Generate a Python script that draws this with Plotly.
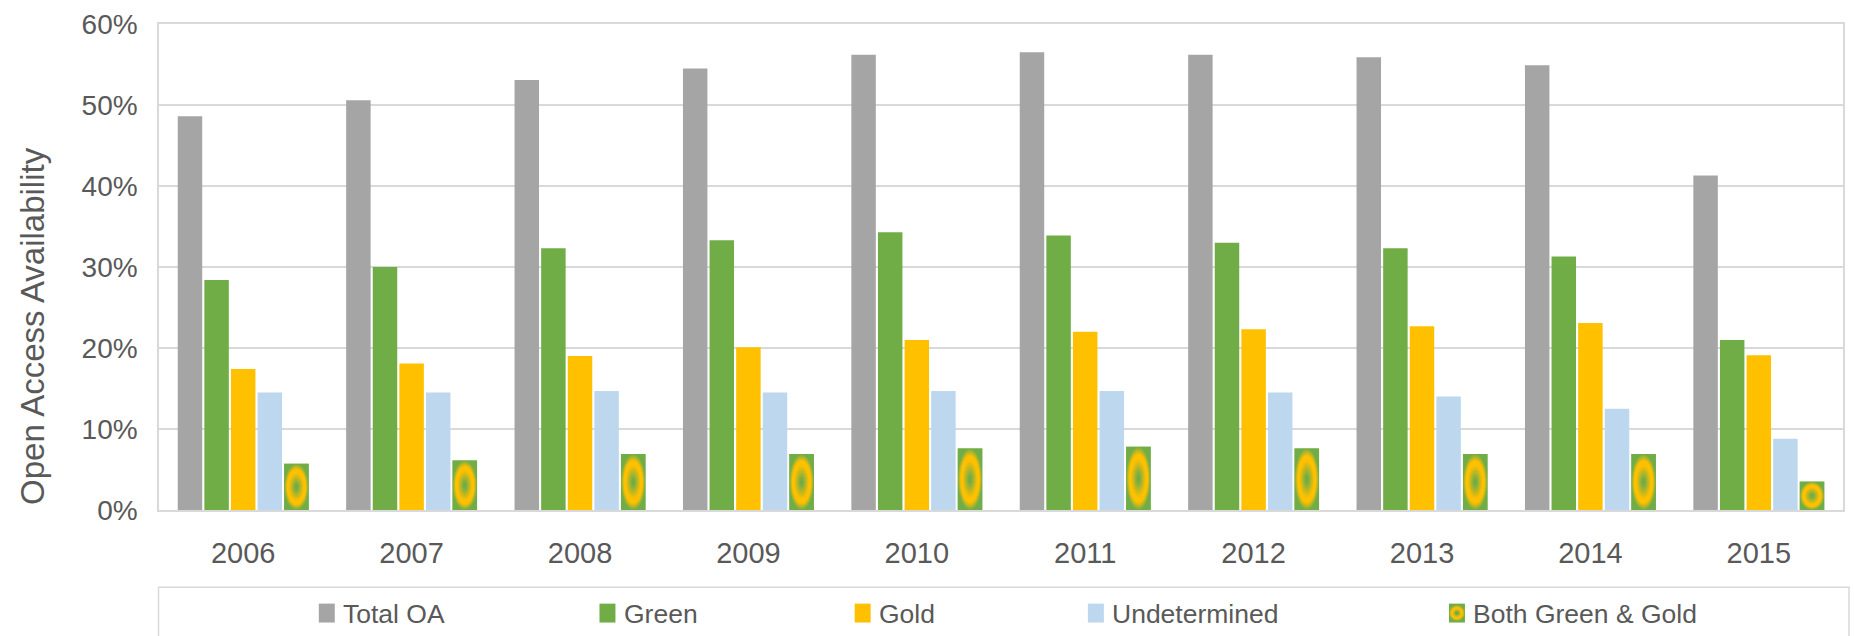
import plotly.graph_objects as go

# ---- data (share of articles available in open access, %) ----
years = ["2006", "2007", "2008", "2009", "2010", "2011", "2012", "2013", "2014", "2015"]
total_oa = [48.6, 50.6, 53.1, 54.5, 56.2, 56.5, 56.2, 55.9, 54.9, 41.3]
green = [28.4, 30.0, 32.3, 33.3, 34.3, 33.9, 33.0, 32.3, 31.3, 21.0]
gold = [17.4, 18.1, 19.0, 20.1, 21.0, 22.0, 22.3, 22.7, 23.1, 19.1]
undetermined = [14.5, 14.5, 14.7, 14.5, 14.7, 14.7, 14.5, 14.0, 12.5, 8.8]
both_green_gold = [5.7, 6.1, 6.9, 6.9, 7.6, 7.8, 7.6, 6.9, 6.9, 3.5]

series_names = ["Total OA", "Green", "Gold", "Undetermined", "Both Green & Gold"]

# ---- styling ----
GREY = "#A5A5A5"
GREEN = "#70AD47"
GOLD = "#FFC000"
BLUE = "#BDD7EE"
TEXT = "#595959"
GRID = "#D9D9D9"
FONT = "Liberation Sans, Arial, sans-serif"

W, H = 1854, 636
ML, MR, MT, MB = 159, 9, 22, 126
PW, PH = W - ML - MR, H - MT - MB

BARGAP = 0.21
GROUPGAP = 0.08
NSER = 5


def px_x(px):
    return (px - ML) / PW


def px_y(py):
    return (H - MB - py) / PH


xs = list(range(len(years)))
series_values = [total_oa, green, gold, undetermined, both_green_gold]
series_colors = [GREY, GREEN, GOLD, BLUE, GREEN]

fig = go.Figure()
for name, vals, col in zip(series_names, series_values, series_colors):
    fig.add_trace(go.Bar(
        x=xs, y=[v / 100 for v in vals], name=name,
        marker=dict(color=col, line=dict(width=0)),
        showlegend=False, hoverinfo="x+y+name",
    ))

# radial green/gold fill laid over each "Both Green & Gold" bar
slot = (1 - BARGAP) / NSER
centre_off = -(1 - BARGAP) / 2 + slot * (NSER - 0.5)
half_w = slot * (1 - GROUPGAP) / 2
for x, v in zip(xs, both_green_gold):
    c = x + centre_off
    fig.add_trace(go.Scatter(
        x=[c - half_w, c + half_w, c + half_w, c - half_w, c - half_w],
        y=[0, 0, v / 100, v / 100, 0],
        mode="lines", line=dict(width=0), fill="toself",
        fillgradient=dict(type="radial",
                          colorscale=[[0.0, GREEN], [0.1, GREEN], [0.6, GOLD],
                                      [0.75, GOLD], [1.0, GREEN]]),
        showlegend=False, hoverinfo="skip",
    ))

fig.update_layout(
    width=W, height=H,
    margin=dict(l=ML, r=MR, t=MT, b=MB),
    paper_bgcolor="white", plot_bgcolor="white",
    barmode="group", bargap=BARGAP, bargroupgap=GROUPGAP,
    font=dict(family=FONT, color=TEXT, size=29),
    showlegend=False,
)
fig.update_xaxes(
    range=[-0.5, len(years) - 0.5], tickmode="array", tickvals=xs, ticktext=years,
    showgrid=False, zeroline=False, showline=True, mirror=True,
    linecolor=GRID, linewidth=1.5, ticks="", ticklabelstandoff=16,
    tickfont=dict(size=29, color=TEXT),
)
fig.update_yaxes(
    range=[0, 0.6], dtick=0.1, tickformat=".0%",
    showgrid=True, gridcolor=GRID, gridwidth=1.5, zeroline=False,
    showline=True, mirror=True, linecolor=GRID, linewidth=1.5,
    ticks="", ticklabelstandoff=14, tickfont=dict(size=28, color=TEXT),
)

annotations = [dict(
    text="Open Access Availability", textangle=-90,
    x=px_x(33), y=px_y(325), xref="paper", yref="paper",
    xanchor="center", yanchor="middle", showarrow=False,
    font=dict(size=33, color=TEXT, family=FONT),
)]

shapes = [dict(
    type="rect", xref="paper", yref="paper",
    x0=px_x(158.5), x1=px_x(1851), y0=px_y(587.5), y1=px_y(680),
    line=dict(color=GRID, width=1.5), fillcolor="rgba(0,0,0,0)", layer="below",
)]

# legend: square swatch followed by the series name
legend_text_left = [341.5, 622.5, 878, 1111.5, 1473]
SW_W, SW_TOP, SW_BOT = 16, 604, 623
for name, col, tx in zip(series_names, series_colors, legend_text_left):
    sx1 = tx - 6.5
    sx0 = sx1 - SW_W
    shapes.append(dict(type="rect", xref="paper", yref="paper",
                       x0=px_x(sx0), x1=px_x(sx1), y0=px_y(SW_BOT), y1=px_y(SW_TOP),
                       line=dict(width=0), fillcolor=col))
    annotations.append(dict(text=name, x=px_x(tx), y=px_y(614), xref="paper", yref="paper",
                            xanchor="left", yanchor="middle", showarrow=False,
                            font=dict(size=26.5, color=TEXT, family=FONT)))
    if name == "Both Green & Gold":
        cx, cy = (sx0 + sx1) / 2, (SW_TOP + SW_BOT) / 2
        for r, c in [(7.5, "#C9B81C"), (6.0, GOLD), (3.8, "#C9B81C"), (2.2, GREEN)]:
            shapes.append(dict(type="circle", xref="paper", yref="paper",
                               x0=px_x(cx - r), x1=px_x(cx + r),
                               y0=px_y(cy + r), y1=px_y(cy - r),
                               line=dict(width=0), fillcolor=c))

fig.update_layout(annotations=annotations, shapes=shapes)

fig.write_html("out.html")
